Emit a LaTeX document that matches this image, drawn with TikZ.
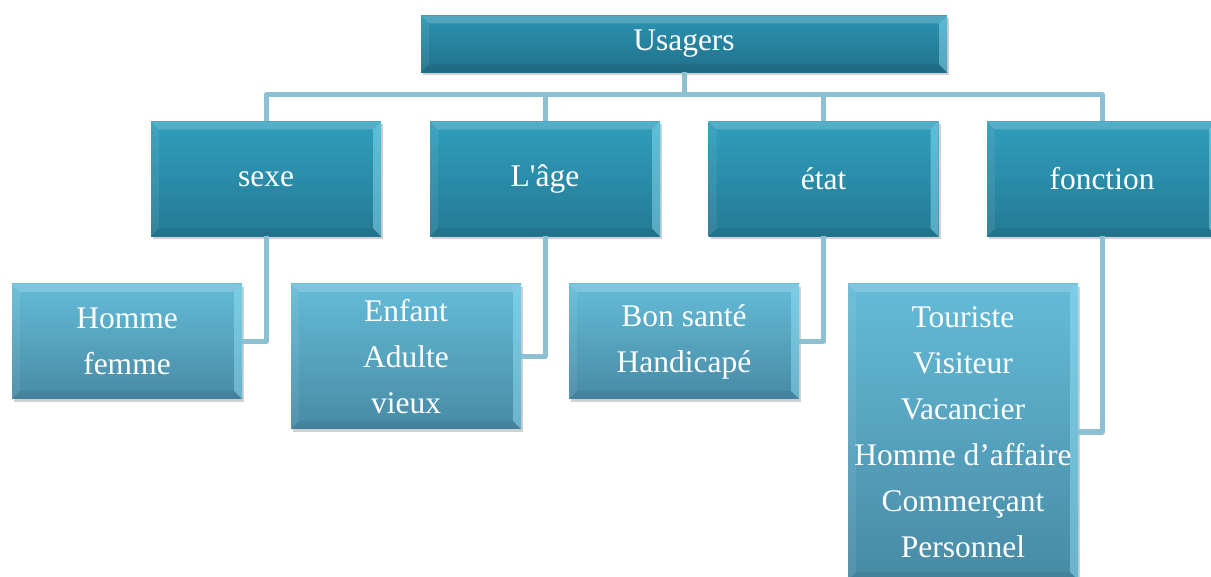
\documentclass[tikz,border=0pt]{standalone}
\usepackage{fontspec}
\setmainfont{Liberation Serif}[Ligatures=TeXOff]
\usetikzlibrary{shadows}
\definecolor{conn}{RGB}{142,192,212}
\definecolor{dtop}{RGB}{44,148,178}
\definecolor{dbot}{RGB}{33,112,138}
\definecolor{mtop}{RGB}{48,158,188}
\definecolor{mbot}{RGB}{36,122,148}
\definecolor{ltop}{RGB}{100,188,216}
\definecolor{lbot}{RGB}{72,138,164}
\definecolor{rim}{RGB}{150,230,250}
\tikzset{
  bevel/.style={path picture={
    \fill[white,opacity=0.18] (path picture bounding box.north west) -- (path picture bounding box.north east)
      -- ([xshift=-8pt,yshift=-8pt]path picture bounding box.north east) -- ([xshift=8pt,yshift=-8pt]path picture bounding box.north west) -- cycle;
    \fill[white,opacity=0.07] (path picture bounding box.north west) -- ([xshift=8pt,yshift=-8pt]path picture bounding box.north west)
      -- ([xshift=8pt,yshift=8pt]path picture bounding box.south west) -- (path picture bounding box.south west) -- cycle;
    \fill[rim,opacity=0.45] (path picture bounding box.north east) -- ([xshift=-8pt,yshift=-8pt]path picture bounding box.north east)
      -- ([xshift=-8pt,yshift=8pt]path picture bounding box.south east) -- (path picture bounding box.south east) -- cycle;
    \fill[black,opacity=0.06] (path picture bounding box.south west) -- ([xshift=8pt,yshift=8pt]path picture bounding box.south west)
      -- ([xshift=-8pt,yshift=8pt]path picture bounding box.south east) -- (path picture bounding box.south east) -- cycle;
  }},
  basebox/.style={rectangle, inner sep=0pt, outer sep=0pt, minimum width=230pt, text=white,
    align=center, font=\fontsize{31.5}{46}\selectfont, bevel,
    drop shadow={shadow xshift=2pt, shadow yshift=-3pt, opacity=0.3, fill=black!60}},
  topbox/.style={basebox, top color=dtop, bottom color=dbot, minimum width=526pt, minimum height=57pt},
  midbox/.style={basebox, top color=mtop, bottom color=mbot, minimum height=115pt},
  leafbox/.style={basebox, top color=ltop, bottom color=lbot},
  link/.style={draw=conn, line width=5pt, line join=round}
}
\begin{document}
\begin{tikzpicture}[x=1pt,y=-1pt]
\useasboundingbox (0,0) rectangle (1211,577);
\coordinate (bus) at (684,95);
\node[topbox] (U) at (684,44) {Usagers};
\node[midbox] (sexe) at (266,179) {sexe};
\node[midbox] (age) at (545,179) {L'âge};
\node[midbox] (etat) at (823.5,179) {état};
\node[midbox] (fonc) at (1102,179) {fonction};
\node[leafbox, minimum height=115pt] (hf) at (127,341.5) {Homme\\femme};
\node[leafbox, minimum height=145pt] (enf) at (406,356.5) {Enfant\\Adulte\\vieux};
\node[leafbox, minimum height=115pt] (bon) at (684,341.5) {Bon santé\\Handicapé};
\node[leafbox, minimum height=296pt] (tour) at (963,432) {Touriste\\Visiteur\\Vacancier\\Homme d’affaire\\Commerçant\\Personnel};
\draw[link] (U.south) -- (bus);
\draw[link] (sexe.north) |- (bus);
\draw[link] (age.north) |- (bus);
\draw[link] (etat.north) |- (bus);
\draw[link] (fonc.north) |- (bus);
\draw[link] (sexe.south) |- (hf.east);
\draw[link] (age.south) |- (enf.east);
\draw[link] (etat.south) |- (bon.east);
\draw[link] (fonc.south) |- (tour.east);
\end{tikzpicture}
\end{document}
